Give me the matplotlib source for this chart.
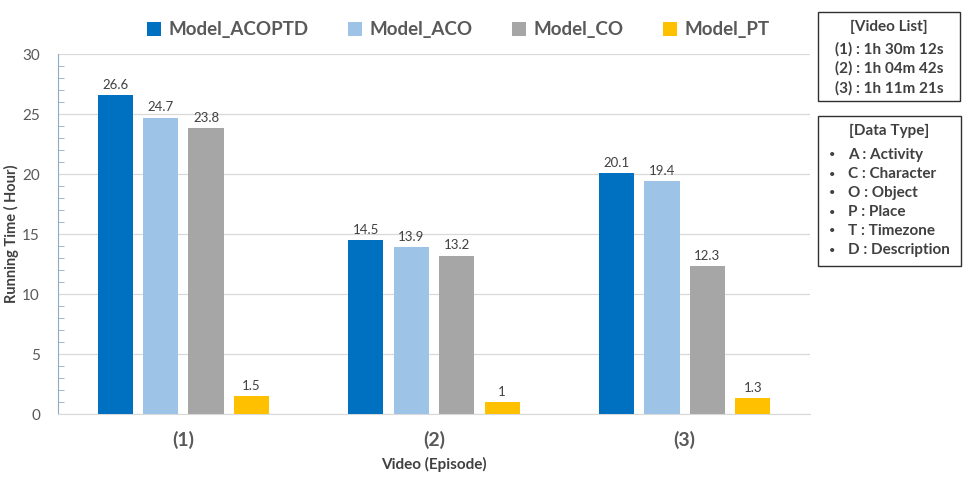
import numpy as np
import matplotlib.pyplot as plt
from matplotlib.ticker import MultipleLocator

plt.rcParams['font.family'] = ['Lato', 'DejaVu Sans']

episodes = ['(1)', '(2)', '(3)']
models = ['Model_ACOPTD', 'Model_ACO', 'Model_CO', 'Model_PT']
acoptd = [26.6, 14.5, 20.1]
aco = [24.7, 13.9, 19.4]
co = [23.8, 13.2, 12.3]
pt = [1.5, 1, 1.3]
colors = ['#0070C0', '#9DC3E6', '#A6A6A6', '#FFC000']
video_list = ['(1) : 1h 30m 12s', '(2) : 1h 04m 42s', '(3) : 1h 11m 21s']
data_types = ['A : Activity', 'C : Character', 'O : Object', 'P : Place',
              'T : Timezone', 'D : Description']

txt = '#404040'
fig = plt.figure(figsize=(9.79, 4.91), dpi=100)
ax = fig.add_axes([58/979, 1-414/491, 752/979, 360/491])

x = np.arange(len(episodes))
w = 0.14
step = 0.181
for i, (vals, name) in enumerate(zip([acoptd, aco, co, pt], models)):
    pos = x + (i - 1.5) * step
    bars = ax.bar(pos, vals, w, color=colors[i], label=name, zorder=3)
    for b, v in zip(bars, vals):
        ax.text(b.get_x() + b.get_width()/2, v + 0.35, f'{v:g}', ha='center',
                va='bottom', fontsize=9.5, color=txt)

ax.set_xlim(-0.5, 2.5)
ax.set_ylim(0, 30)
ax.yaxis.set_major_locator(MultipleLocator(5))
ax.yaxis.set_minor_locator(MultipleLocator(1))
ax.grid(axis='y', color='#D9D9D9', linewidth=0.9, zorder=0)
for s in ['top', 'right']:
    ax.spines[s].set_visible(False)
ax.spines['bottom'].set_color('#D9D9D9')
ax.spines['left'].set_color('#8EA9C1')
ax.tick_params(axis='y', which='both', direction='in', color='#8EA9C1',
               labelsize=11, labelcolor='#595959', pad=13)
ax.tick_params(axis='y', which='major', length=0)
ax.tick_params(axis='y', which='minor', length=4)
ax.set_xticks(x)
ax.set_xticklabels(episodes, fontsize=14, fontweight='bold', color='#595959')
ax.tick_params(axis='x', length=0, pad=12)
ax.set_xlabel('Video (Episode)', fontsize=11, fontweight='bold', color=txt, labelpad=6)
ax.set_ylabel('Running Time ( Hour)', fontsize=10.5, fontweight='bold', color=txt)
ax.yaxis.set_label_coords(-39/752, 0.5)

leg = fig.legend(loc='center', bbox_to_anchor=(458/979, 1-30/491), ncol=4,
                 frameon=False, fontsize=13.5, handlelength=0.75, handleheight=0.75,
                 handletextpad=0.4, columnspacing=2.1)
for t in leg.get_texts():
    t.set_fontweight('bold')
    t.set_color('#595959')

# info boxes
def box(x0, y0, x1, y1):
    fig.patches.append(plt.Rectangle((x0/979, 1-y1/491), (x1-x0)/979, (y1-y0)/491,
                                     transform=fig.transFigure, fill=False,
                                     edgecolor='#303030', linewidth=1))

box(818, 12, 960, 101)
fig.text(889/979, 1-27/491, '[Video List]', ha='center', va='center',
         fontsize=11, fontweight='bold', color=txt)
for k, s in enumerate(video_list):
    fig.text(889/979, 1-(49 + k*19.5)/491, s, ha='center', va='center',
             fontsize=11, fontweight='bold', color=txt)

box(818, 116, 961, 266)
fig.text(889/979, 1-131/491, '[Data Type]', ha='center', va='center',
         fontsize=11, fontweight='bold', color=txt)
for k, s in enumerate(data_types):
    yy = 1-(155 + k*19)/491
    fig.text(832/979, yy, '•', ha='center', va='center', fontsize=8, color=txt)
    fig.text(848/979, yy, s, ha='left', va='center', fontsize=11,
             fontweight='bold', color=txt)

fig.savefig('out.png', dpi=100)
